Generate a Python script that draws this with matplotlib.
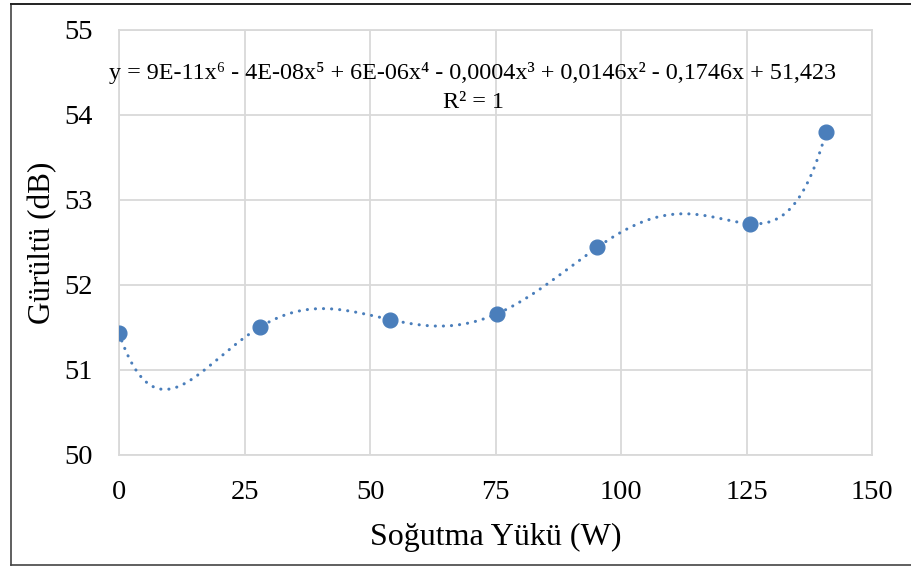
import numpy as np
import matplotlib
matplotlib.use("Agg")
import matplotlib.pyplot as plt
from matplotlib.lines import Line2D

# Data
load_w = [0, 28, 54, 75.3, 95.2, 125.6, 140.8]
noise_db = [51.43, 51.50, 51.59, 51.66, 52.44, 52.72, 53.80]
x_ticks = [0, 25, 50, 75, 100, 125, 150]
y_ticks = [50, 51, 52, 53, 54, 55]
equation = "y = 9E-11x⁶ - 4E-08x⁵ + 6E-06x⁴ - 0,0004x³ + 0,0146x² - 0,1746x + 51,423\nR² = 1"
x_label = "Soğutma Yükü (W)"
y_label = "Gürültü (dB)"

plt.rcParams['font.family'] = ['Liberation Serif', 'DejaVu Serif']

W, H = 911, 566
fig = plt.figure(figsize=(W / 100, H / 100), dpi=100)
ax = fig.add_axes([119 / W, 1 - 454.7 / H, (872.3 - 119) / W, (454.7 - 30) / H])

blue = '#4A7EBB'
grid = '#D9D9D9'

# 6th order polynomial trendline (as in the chart, R^2 = 1)
coef = np.polyfit(load_w, noise_db, 6)
xs = np.linspace(min(load_w), max(load_w), 600)
ax.plot(xs, np.polyval(coef, xs), color=blue, lw=2.2,
        linestyle=(0, (0.05, 2.6)), dash_capstyle='round', zorder=2)
ax.plot(load_w, noise_db, 'o', color=blue, markersize=10.6, zorder=3)

ax.set_xlim(0, 150)
ax.set_ylim(50, 55)
ax.set_xticks(x_ticks)
ax.set_yticks(y_ticks)
ax.grid(True, color=grid, lw=1.3)
ax.set_axisbelow(True)
for s in ax.spines.values():
    s.set_color(grid)
    s.set_linewidth(1.3)
ax.tick_params(length=0, labelsize=20.5, colors='black')
ax.tick_params(axis='y', pad=19)
ax.tick_params(axis='x', pad=18)

ax.set_xlabel(x_label, fontsize=23, labelpad=13)
ax.set_ylabel(y_label, fontsize=22.5, labelpad=5)

fig.text(473 / W, 1 - 87.5 / H, equation, ha='center', va='center',
         fontsize=17.4, linespacing=1.45)

# outer chart border
fig.add_artist(Line2D([10.5 / W, 10.5 / W], [1 - 3.5 / H, 1 - 564.5 / H],
                      transform=fig.transFigure, color='#444444', lw=1.2))
fig.add_artist(Line2D([10.5 / W, 1.0], [1 - 3.5 / H, 1 - 3.5 / H],
                      transform=fig.transFigure, color='#222222', lw=1.4))
fig.add_artist(Line2D([10.5 / W, 1.0], [1 - 564.5 / H, 1 - 564.5 / H],
                      transform=fig.transFigure, color='#444444', lw=1.2))

fig.savefig('out.png', dpi=100)
